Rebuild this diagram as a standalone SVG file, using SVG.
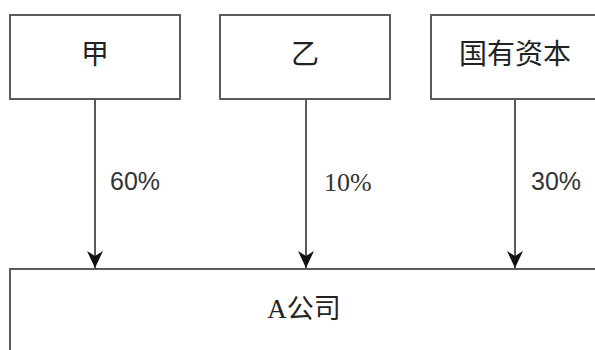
<svg xmlns="http://www.w3.org/2000/svg" width="595" height="350" viewBox="0 0 595 350">
<style>
.box{fill:#fff;stroke:#5a5a5a;stroke-width:2}
.lbl{font-family:"Noto Sans CJK SC","Liberation Sans",sans-serif;font-size:28px;fill:#222;text-anchor:middle}
.pct{font-family:"Liberation Sans","Noto Sans",sans-serif;font-size:25px;fill:#333}
.pcts{font-family:"Liberation Serif",serif;font-size:26px;fill:#333}
.conn{stroke:#5a5a5a;stroke-width:2;fill:none}
</style>
<defs>
<marker id="ah" markerUnits="userSpaceOnUse" markerWidth="18" markerHeight="18" viewBox="0 0 18 18" refX="17" refY="9" orient="auto">
<path d="M0,1 L17,9 L0,17 L5,9 Z" fill="#111"/>
</marker>
</defs>
<rect width="595" height="350" fill="#fff"/>
<g id="connectors">
<line class="conn" x1="95" y1="100" x2="95" y2="268" marker-end="url(#ah)"/>
<line class="conn" x1="306" y1="100" x2="306" y2="268" marker-end="url(#ah)"/>
<line class="conn" x1="515" y1="100" x2="515" y2="268" marker-end="url(#ah)"/>
<text class="pct" x="110" y="190">60%</text>
<text class="pcts" x="324" y="191">10%</text>
<text class="pct" x="531" y="190">30%</text>
</g>
<g id="node-jia">
<rect class="box" x="10" y="15" width="170" height="84"/>
<text class="lbl" x="95" y="64">甲</text>
</g>
<g id="node-yi">
<rect class="box" x="220" y="15" width="170" height="84"/>
<text class="lbl" x="305" y="64">乙</text>
</g>
<g id="node-guoyou">
<rect class="box" x="431" y="15" width="170" height="84"/>
<text class="lbl" x="515" y="64">国有资本</text>
</g>
<g id="node-a">
<rect class="box" x="10" y="269" width="600" height="100"/>
<text x="304" y="318" text-anchor="middle" font-family="Liberation Serif, Noto Sans CJK SC, serif" font-size="27" fill="#222">A公司</text>
</g>
</svg>
